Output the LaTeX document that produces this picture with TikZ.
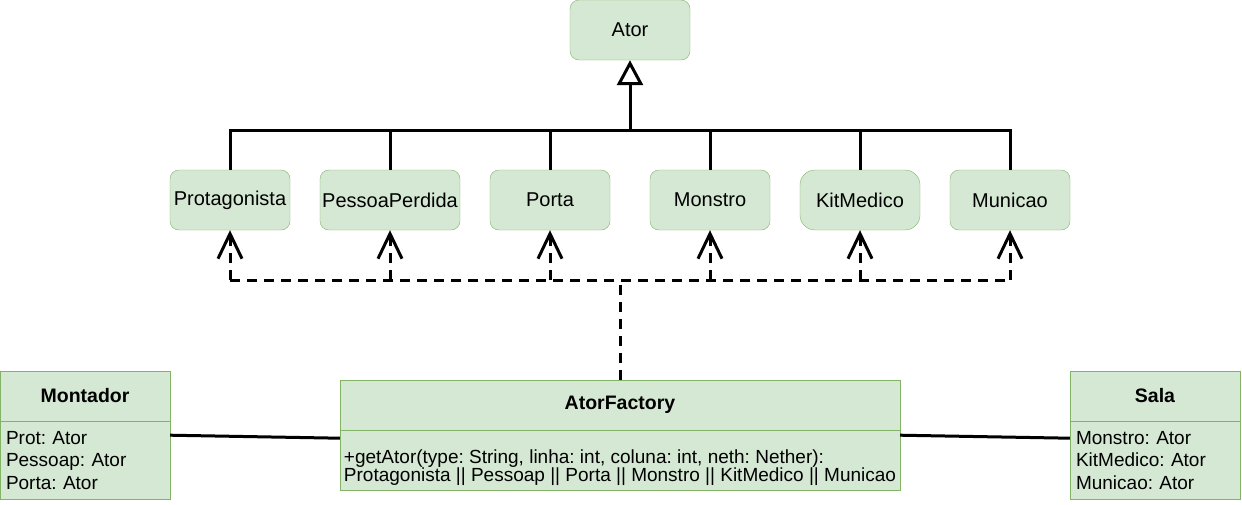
\documentclass[tikz,border=0pt]{standalone}
\usepackage{fontspec}
\setmainfont{Liberation Sans}
\usetikzlibrary{arrows.meta,positioning}
\definecolor{boxfill}{HTML}{D5E8D4}
\definecolor{boxline}{HTML}{82B366}
\frenchspacing
\hyphenpenalty=10000

\begin{document}
\begin{tikzpicture}[x=1pt, y=-1pt, font=\fontsize{20}{22}\selectfont,
		actor/.style={draw=boxline, fill=boxfill, rounded corners=9pt, minimum width=120pt, minimum height=60pt, inner sep=0pt},
		head/.style={draw=boxline, fill=boxfill, font=\fontsize{19.5}{22}\selectfont\bfseries, minimum height=50pt, inner sep=0pt},
		attrs/.style={draw=boxline, fill=boxfill, align=left, inner xsep=6pt, inner ysep=0pt, font=\fontsize{19}{22.5}\selectfont},
		gen/.style={line width=3pt},
		dep/.style={line width=3pt, dash pattern=on 10pt off 7pt}]
		\useasboundingbox (0,0) rectangle (1242,504);
		\node[actor] (ator) at (630,30) {Ator};
		\foreach \n/\x/\t/\w/\r in {prot/230/Protagonista/120/9, pess/390/PessoaPerdida/140/9, porta/550/Porta/120/9, mons/710/Monstro/120/9, kit/860/KitMedico/120/15, mun/1010/Municao/120/9}
			{
				\node[actor, minimum width=\w pt, rounded corners=\r pt] (\n) at (\x,200) {\t};
			}
		\node[head, minimum width=170pt] (mont) at (85,396) {Montador};
		\node[attrs, below=0pt of mont, text width=158pt, minimum height=78pt] (montb) {Prot: Ator\\Pessoap: Ator\\Porta: Ator};
		\node[head, minimum width=560pt] (fact) at (620,405) {AtorFactory};
		\node[attrs, below=0pt of fact, minimum width=560pt, inner xsep=0pt, minimum height=60pt, font=\fontsize{19}{18.5}\selectfont] (factb) {\rule{0pt}{28pt}+getAtor(type: String, linha: int, coluna: int, neth: Nether):\\Protagonista || Pessoap || Porta || Monstro || KitMedico || Municao};
		\node[head, minimum width=170pt] (sala) at (1155,396) {Sala};
		\node[attrs, below=0pt of sala, text width=158pt, minimum height=78pt] (salab) {Monstro: Ator\\KitMedico: Ator\\Municao: Ator};
		\coordinate (bus) at (630,130);
		\foreach \n in {prot,pess,porta,mons,kit,mun}
			{
				\draw[gen] (\n.north) |- (bus);
			}
		\draw[gen, -{Triangle[open, length=25pt, width=26pt, fill=white]}] (bus) -- (ator.south);
		\coordinate (hub) at (620,280);
		\draw[dep] (fact.north) -- (hub);
		\draw[dep] (prot.south |- hub) -- (mun.south |- hub);
		\foreach \n in {prot,pess,porta,mons,kit,mun}
			{
				\draw[dep, -{Straight Barb[length=25pt, width=24pt]}] (\n.south |- hub) -- (\n.south);
			}
		\draw[gen] ([yshift=-14pt]montb.north east) -- ([yshift=-8pt]factb.north west);
		\draw[gen] ([yshift=-5pt]factb.north east) -- ([yshift=-17pt]salab.north west);
	\end{tikzpicture}
\end{document}
